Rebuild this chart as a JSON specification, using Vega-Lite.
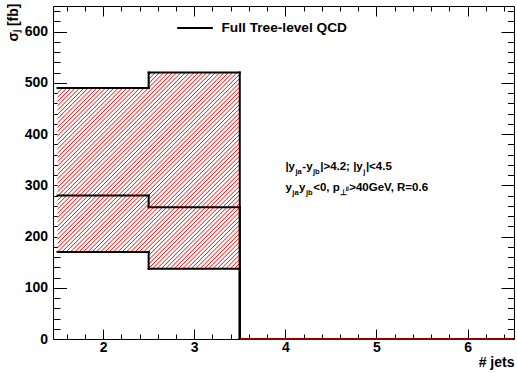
{
"$schema": "https://vega.github.io/schema/vega-lite/v6.json",
"width": 461, "height": 333,
"autosize": {"type": "none"},
"padding": {"left": 53, "top": 6, "right": 3, "bottom": 34},
"background": "white",
"config": {
 "font": "Liberation Sans",
 "view": {"stroke": "black", "strokeWidth": 1},
 "axis": {"grid": false, "domain": false, "labelFont": "Liberation Sans", "labelFontWeight": "bold", "labelFontSize": 14, "labelColor": "black", "tickColor": "black", "tickWidth": 1, "tickOpacity": 1, "titleFont": "Liberation Sans", "titleFontWeight": "bold", "titleFontSize": 14, "titleColor": "black", "labelFlush": false, "labelOverlap": false, "zindex": 1}
},
"data": {"values": [
 {"nj": 2, "x0": 1.5, "x1": 2.5, "val": 280, "low": 170, "high": 490},
 {"nj": 3, "x0": 2.5, "x1": 3.5, "val": 257, "low": 137, "high": 520},
 {"nj": 4, "x0": 3.5, "x1": 4.5, "val": 0, "low": 0, "high": 0},
 {"nj": 5, "x0": 4.5, "x1": 5.5, "val": 0, "low": 0, "high": 0},
 {"nj": 6, "x0": 5.5, "x1": 6.5, "val": 0, "low": 0, "high": 0}
]},
"resolve": {"axis": {"x": "independent", "y": "independent"}},
"layer": [
 {
  "transform": [{"filter": "datum.nj <= 4"}],
  "mark": {"type": "area", "interpolate": "step-after", "fill": {"gradient": "linear", "x1": 0, "y1": 0, "x2": 0.78470, "y2": 1.14726, "stops": [
{"offset":0.03344,"color":"#ffffff"},{"offset":0.03567,"color":"#ff0000"},{"offset":0.03790,"color":"#ffffff"},
{"offset":0.04302,"color":"#ffffff"},{"offset":0.04525,"color":"#ff0000"},{"offset":0.04748,"color":"#ffffff"},
{"offset":0.05261,"color":"#ffffff"},{"offset":0.05484,"color":"#ff0000"},{"offset":0.05707,"color":"#ffffff"},
{"offset":0.06219,"color":"#ffffff"},{"offset":0.06442,"color":"#ff0000"},{"offset":0.06665,"color":"#ffffff"},
{"offset":0.07178,"color":"#ffffff"},{"offset":0.07401,"color":"#ff0000"},{"offset":0.07624,"color":"#ffffff"},
{"offset":0.08136,"color":"#ffffff"},{"offset":0.08359,"color":"#ff0000"},{"offset":0.08582,"color":"#ffffff"},
{"offset":0.09095,"color":"#ffffff"},{"offset":0.09318,"color":"#ff0000"},{"offset":0.09541,"color":"#ffffff"},
{"offset":0.10053,"color":"#ffffff"},{"offset":0.10276,"color":"#ff0000"},{"offset":0.10499,"color":"#ffffff"},
{"offset":0.11012,"color":"#ffffff"},{"offset":0.11235,"color":"#ff0000"},{"offset":0.11458,"color":"#ffffff"},
{"offset":0.11970,"color":"#ffffff"},{"offset":0.12193,"color":"#ff0000"},{"offset":0.12416,"color":"#ffffff"},
{"offset":0.12929,"color":"#ffffff"},{"offset":0.13152,"color":"#ff0000"},{"offset":0.13375,"color":"#ffffff"},
{"offset":0.13887,"color":"#ffffff"},{"offset":0.14110,"color":"#ff0000"},{"offset":0.14333,"color":"#ffffff"},
{"offset":0.14846,"color":"#ffffff"},{"offset":0.15069,"color":"#ff0000"},{"offset":0.15292,"color":"#ffffff"},
{"offset":0.15805,"color":"#ffffff"},{"offset":0.16027,"color":"#ff0000"},{"offset":0.16250,"color":"#ffffff"},
{"offset":0.16763,"color":"#ffffff"},{"offset":0.16986,"color":"#ff0000"},{"offset":0.17209,"color":"#ffffff"},
{"offset":0.17722,"color":"#ffffff"},{"offset":0.17944,"color":"#ff0000"},{"offset":0.18167,"color":"#ffffff"},
{"offset":0.18680,"color":"#ffffff"},{"offset":0.18903,"color":"#ff0000"},{"offset":0.19126,"color":"#ffffff"},
{"offset":0.19639,"color":"#ffffff"},{"offset":0.19861,"color":"#ff0000"},{"offset":0.20084,"color":"#ffffff"},
{"offset":0.20597,"color":"#ffffff"},{"offset":0.20820,"color":"#ff0000"},{"offset":0.21043,"color":"#ffffff"},
{"offset":0.21556,"color":"#ffffff"},{"offset":0.21779,"color":"#ff0000"},{"offset":0.22001,"color":"#ffffff"},
{"offset":0.22514,"color":"#ffffff"},{"offset":0.22737,"color":"#ff0000"},{"offset":0.22960,"color":"#ffffff"},
{"offset":0.23473,"color":"#ffffff"},{"offset":0.23696,"color":"#ff0000"},{"offset":0.23918,"color":"#ffffff"},
{"offset":0.24431,"color":"#ffffff"},{"offset":0.24654,"color":"#ff0000"},{"offset":0.24877,"color":"#ffffff"},
{"offset":0.25390,"color":"#ffffff"},{"offset":0.25613,"color":"#ff0000"},{"offset":0.25835,"color":"#ffffff"},
{"offset":0.26348,"color":"#ffffff"},{"offset":0.26571,"color":"#ff0000"},{"offset":0.26794,"color":"#ffffff"},
{"offset":0.27307,"color":"#ffffff"},{"offset":0.27530,"color":"#ff0000"},{"offset":0.27753,"color":"#ffffff"},
{"offset":0.28265,"color":"#ffffff"},{"offset":0.28488,"color":"#ff0000"},{"offset":0.28711,"color":"#ffffff"},
{"offset":0.29224,"color":"#ffffff"},{"offset":0.29447,"color":"#ff0000"},{"offset":0.29670,"color":"#ffffff"},
{"offset":0.30182,"color":"#ffffff"},{"offset":0.30405,"color":"#ff0000"},{"offset":0.30628,"color":"#ffffff"},
{"offset":0.31141,"color":"#ffffff"},{"offset":0.31364,"color":"#ff0000"},{"offset":0.31587,"color":"#ffffff"},
{"offset":0.32099,"color":"#ffffff"},{"offset":0.32322,"color":"#ff0000"},{"offset":0.32545,"color":"#ffffff"},
{"offset":0.33058,"color":"#ffffff"},{"offset":0.33281,"color":"#ff0000"},{"offset":0.33504,"color":"#ffffff"},
{"offset":0.34016,"color":"#ffffff"},{"offset":0.34239,"color":"#ff0000"},{"offset":0.34462,"color":"#ffffff"},
{"offset":0.34975,"color":"#ffffff"},{"offset":0.35198,"color":"#ff0000"},{"offset":0.35421,"color":"#ffffff"},
{"offset":0.35933,"color":"#ffffff"},{"offset":0.36156,"color":"#ff0000"},{"offset":0.36379,"color":"#ffffff"},
{"offset":0.36892,"color":"#ffffff"},{"offset":0.37115,"color":"#ff0000"},{"offset":0.37338,"color":"#ffffff"},
{"offset":0.37850,"color":"#ffffff"},{"offset":0.38073,"color":"#ff0000"},{"offset":0.38296,"color":"#ffffff"},
{"offset":0.38809,"color":"#ffffff"},{"offset":0.39032,"color":"#ff0000"},{"offset":0.39255,"color":"#ffffff"},
{"offset":0.39767,"color":"#ffffff"},{"offset":0.39990,"color":"#ff0000"},{"offset":0.40213,"color":"#ffffff"},
{"offset":0.40726,"color":"#ffffff"},{"offset":0.40949,"color":"#ff0000"},{"offset":0.41172,"color":"#ffffff"},
{"offset":0.41685,"color":"#ffffff"},{"offset":0.41907,"color":"#ff0000"},{"offset":0.42130,"color":"#ffffff"},
{"offset":0.42643,"color":"#ffffff"},{"offset":0.42866,"color":"#ff0000"},{"offset":0.43089,"color":"#ffffff"},
{"offset":0.43602,"color":"#ffffff"},{"offset":0.43824,"color":"#ff0000"},{"offset":0.44047,"color":"#ffffff"},
{"offset":0.44560,"color":"#ffffff"},{"offset":0.44783,"color":"#ff0000"},{"offset":0.45006,"color":"#ffffff"},
{"offset":0.45519,"color":"#ffffff"},{"offset":0.45742,"color":"#ff0000"},{"offset":0.45964,"color":"#ffffff"},
{"offset":0.46477,"color":"#ffffff"},{"offset":0.46700,"color":"#ff0000"},{"offset":0.46923,"color":"#ffffff"},
{"offset":0.47436,"color":"#ffffff"},{"offset":0.47659,"color":"#ff0000"},{"offset":0.47881,"color":"#ffffff"},
{"offset":0.48394,"color":"#ffffff"},{"offset":0.48617,"color":"#ff0000"},{"offset":0.48840,"color":"#ffffff"},
{"offset":0.49353,"color":"#ffffff"},{"offset":0.49576,"color":"#ff0000"},{"offset":0.49798,"color":"#ffffff"},
{"offset":0.50311,"color":"#ffffff"},{"offset":0.50534,"color":"#ff0000"},{"offset":0.50757,"color":"#ffffff"},
{"offset":0.51270,"color":"#ffffff"},{"offset":0.51493,"color":"#ff0000"},{"offset":0.51716,"color":"#ffffff"},
{"offset":0.52228,"color":"#ffffff"},{"offset":0.52451,"color":"#ff0000"},{"offset":0.52674,"color":"#ffffff"},
{"offset":0.53187,"color":"#ffffff"},{"offset":0.53410,"color":"#ff0000"},{"offset":0.53633,"color":"#ffffff"},
{"offset":0.54145,"color":"#ffffff"},{"offset":0.54368,"color":"#ff0000"},{"offset":0.54591,"color":"#ffffff"},
{"offset":0.55104,"color":"#ffffff"},{"offset":0.55327,"color":"#ff0000"},{"offset":0.55550,"color":"#ffffff"},
{"offset":0.56062,"color":"#ffffff"},{"offset":0.56285,"color":"#ff0000"},{"offset":0.56508,"color":"#ffffff"},
{"offset":0.57021,"color":"#ffffff"},{"offset":0.57244,"color":"#ff0000"},{"offset":0.57467,"color":"#ffffff"},
{"offset":0.57979,"color":"#ffffff"},{"offset":0.58202,"color":"#ff0000"},{"offset":0.58425,"color":"#ffffff"},
{"offset":0.58938,"color":"#ffffff"},{"offset":0.59161,"color":"#ff0000"},{"offset":0.59384,"color":"#ffffff"},
{"offset":0.59896,"color":"#ffffff"},{"offset":0.60119,"color":"#ff0000"},{"offset":0.60342,"color":"#ffffff"},
{"offset":0.60855,"color":"#ffffff"},{"offset":0.61078,"color":"#ff0000"},{"offset":0.61301,"color":"#ffffff"},
{"offset":0.61813,"color":"#ffffff"},{"offset":0.62036,"color":"#ff0000"},{"offset":0.62259,"color":"#ffffff"},
{"offset":0.62772,"color":"#ffffff"},{"offset":0.62995,"color":"#ff0000"},{"offset":0.63218,"color":"#ffffff"},
{"offset":0.63730,"color":"#ffffff"},{"offset":0.63953,"color":"#ff0000"},{"offset":0.64176,"color":"#ffffff"},
{"offset":0.64689,"color":"#ffffff"},{"offset":0.64912,"color":"#ff0000"},{"offset":0.65135,"color":"#ffffff"},
{"offset":0.65648,"color":"#ffffff"},{"offset":0.65870,"color":"#ff0000"},{"offset":0.66093,"color":"#ffffff"},
{"offset":0.66606,"color":"#ffffff"},{"offset":0.66829,"color":"#ff0000"},{"offset":0.67052,"color":"#ffffff"},
{"offset":0.67565,"color":"#ffffff"},{"offset":0.67787,"color":"#ff0000"},{"offset":0.68010,"color":"#ffffff"},
{"offset":0.68523,"color":"#ffffff"},{"offset":0.68746,"color":"#ff0000"},{"offset":0.68969,"color":"#ffffff"},
{"offset":0.69482,"color":"#ffffff"},{"offset":0.69705,"color":"#ff0000"},{"offset":0.69927,"color":"#ffffff"},
{"offset":0.70440,"color":"#ffffff"},{"offset":0.70663,"color":"#ff0000"},{"offset":0.70886,"color":"#ffffff"},
{"offset":0.71399,"color":"#ffffff"},{"offset":0.71622,"color":"#ff0000"},{"offset":0.71844,"color":"#ffffff"},
{"offset":0.72357,"color":"#ffffff"},{"offset":0.72580,"color":"#ff0000"},{"offset":0.72803,"color":"#ffffff"},
{"offset":0.73316,"color":"#ffffff"},{"offset":0.73539,"color":"#ff0000"},{"offset":0.73762,"color":"#ffffff"},
{"offset":0.74274,"color":"#ffffff"},{"offset":0.74497,"color":"#ff0000"},{"offset":0.74720,"color":"#ffffff"},
{"offset":0.75233,"color":"#ffffff"},{"offset":0.75456,"color":"#ff0000"},{"offset":0.75679,"color":"#ffffff"},
{"offset":0.76191,"color":"#ffffff"},{"offset":0.76414,"color":"#ff0000"},{"offset":0.76637,"color":"#ffffff"},
{"offset":0.77150,"color":"#ffffff"},{"offset":0.77373,"color":"#ff0000"},{"offset":0.77596,"color":"#ffffff"},
{"offset":0.78108,"color":"#ffffff"},{"offset":0.78331,"color":"#ff0000"},{"offset":0.78554,"color":"#ffffff"},
{"offset":0.79067,"color":"#ffffff"},{"offset":0.79290,"color":"#ff0000"},{"offset":0.79513,"color":"#ffffff"},
{"offset":0.80025,"color":"#ffffff"},{"offset":0.80248,"color":"#ff0000"},{"offset":0.80471,"color":"#ffffff"},
{"offset":0.80984,"color":"#ffffff"},{"offset":0.81207,"color":"#ff0000"},{"offset":0.81430,"color":"#ffffff"},
{"offset":0.81942,"color":"#ffffff"},{"offset":0.82165,"color":"#ff0000"},{"offset":0.82388,"color":"#ffffff"},
{"offset":0.82901,"color":"#ffffff"},{"offset":0.83124,"color":"#ff0000"},{"offset":0.83347,"color":"#ffffff"},
{"offset":0.83859,"color":"#ffffff"},{"offset":0.84082,"color":"#ff0000"},{"offset":0.84305,"color":"#ffffff"}
  ]}},
  "encoding": {
   "x": {"field": "x0", "type": "quantitative", "scale": {"domain": [1.45, 6.51], "nice": false, "zero": false}, "axis": {"orient": "bottom", "offset": -10, "values": [2, 3, 4, 5, 6], "ticks": true, "tickSize": 10, "labelPadding": 1.5, "title": "# jets", "titleAnchor": "end", "titleAlign": "right", "titleX": 461, "titleY": 37.7, "titleBaseline": "alphabetic"}},
   "y": {"field": "high", "type": "quantitative", "scale": {"domain": [0, 650], "nice": false}, "axis": {"orient": "left", "offset": -13.5, "values": [0, 100, 200, 300, 400, 500, 600], "ticks": true, "tickSize": 13.5, "labelPadding": 5.5, "title": "σⱼ [fb]", "titleAnchor": "end", "titleAlign": "right", "titleAngle": 270, "titleX": -49.5, "titleY": -3, "titleBaseline": "alphabetic"}},
   "y2": {"field": "low"}
  }
 },
 {
  "transform": [{"fold": ["val", "low", "high"], "as": ["series", "v"]}],
  "mark": {"type": "rule", "strokeWidth": 2, "strokeCap": "square"},
  "encoding": {
   "x": {"field": "x0", "type": "quantitative", "scale": {"domain": [1.45, 6.51], "nice": false, "zero": false}, "axis": {"orient": "bottom", "offset": -5, "values": [1.6, 1.8, 2.2, 2.4, 2.6, 2.8, 3.2, 3.4, 3.6, 3.8, 4.2, 4.4, 4.6, 4.8, 5.2, 5.4, 5.6, 5.8, 6.2, 6.4], "labels": false, "ticks": true, "tickSize": 5, "title": null}},
   "x2": {"field": "x1"},
   "y": {"field": "v", "type": "quantitative", "scale": {"domain": [0, 650], "nice": false}, "axis": {"orient": "left", "offset": -7, "values": [20, 40, 60, 80, 120, 140, 160, 180, 220, 240, 260, 280, 320, 340, 360, 380, 420, 440, 460, 480, 520, 540, 560, 580, 620, 640], "labels": false, "ticks": true, "tickSize": 7, "title": null}},
   "color": {"datum": "Full Tree-level QCD", "type": "nominal", "scale": {"range": ["black"]}, "legend": {"orient": "none", "legendX": 123, "legendY": 3, "title": null, "padding": 0, "symbolType": "stroke", "symbolSize": 1274, "symbolStrokeWidth": 2, "symbolStrokeColor": "black", "labelFont": "Liberation Sans", "labelFontWeight": "bold", "labelFontSize": 13.7, "labelColor": "black", "labelOffset": 7.5}}
  }
 },
 {
  "transform": [
   {"fold": ["val", "low", "high"], "as": ["series", "v"]},
   {"window": [{"op": "lag", "field": "v", "as": "prev"}], "groupby": ["series"], "sort": [{"field": "nj", "order": "ascending"}]},
   {"filter": "datum.prev != null"}
  ],
  "mark": {"type": "rule", "strokeWidth": 2, "strokeCap": "square", "color": "black"},
  "encoding": {
   "x": {"field": "x0", "type": "quantitative", "scale": {"domain": [1.45, 6.51], "nice": false, "zero": false}, "axis": {"orient": "top", "offset": -10, "values": [2, 3, 4, 5, 6], "labels": false, "ticks": true, "tickSize": 10, "title": null}},
   "y": {"field": "prev", "type": "quantitative", "scale": {"domain": [0, 650], "nice": false}, "axis": {"orient": "right", "offset": -13, "values": [100, 200, 300, 400, 500, 600], "labels": false, "ticks": true, "tickSize": 13, "title": null}},
   "y2": {"field": "v"}
  }
 },
 {
  "transform": [{"filter": "datum.nj >= 4"}],
  "mark": {"type": "rule", "strokeWidth": 1.5, "color": "#c00000"},
  "encoding": {
   "x": {"field": "x0", "type": "quantitative", "scale": {"domain": [1.45, 6.51], "nice": false, "zero": false}, "axis": {"orient": "top", "offset": -5, "values": [1.6, 1.8, 2.2, 2.4, 2.6, 2.8, 3.2, 3.4, 3.6, 3.8, 4.2, 4.4, 4.6, 4.8, 5.2, 5.4, 5.6, 5.8, 6.2, 6.4], "labels": false, "ticks": true, "tickSize": 5, "title": null}},
   "x2": {"field": "x1"},
   "y": {"field": "high", "type": "quantitative", "scale": {"domain": [0, 650], "nice": false}, "axis": {"orient": "right", "offset": -6.5, "values": [20, 40, 60, 80, 120, 140, 160, 180, 220, 240, 260, 280, 320, 340, 360, 380, 420, 440, 460, 480, 520, 540, 560, 580, 620, 640], "labels": false, "ticks": true, "tickSize": 6.5, "title": null}}
  }
 },
 {
  "data": {"values": [
   {"x": 4.0008, "y": 329.5, "t": "|y"},
   {"x": 4.1864, "y": 329.5, "t": "-y"},
   {"x": 4.3828, "y": 329.5, "t": "|>4.2; |y"},
   {"x": 4.8844, "y": 329.5, "t": "|<4.5"},
   {"x": 4.0008, "y": 289.5, "t": "y"},
   {"x": 4.1512, "y": 289.5, "t": "y"},
   {"x": 4.3060, "y": 289.5, "t": "<0, p"},
   {"x": 4.7012, "y": 289.5, "t": ">40GeV, R=0.6"}
  ]},
  "mark": {"type": "text", "align": "left", "baseline": "alphabetic", "font": "Liberation Sans", "fontWeight": "bold", "fontSize": 11.5, "color": "black"},
  "encoding": {
   "x": {"field": "x", "type": "quantitative", "scale": {"domain": [1.45, 6.51], "nice": false, "zero": false}, "axis": null},
   "y": {"field": "y", "type": "quantitative", "scale": {"domain": [0, 650], "nice": false}, "axis": null},
   "text": {"field": "t"}
  }
 },
 {
  "data": {"values": [
   {"x": 4.1117, "y": 321.7, "t": "ja"},
   {"x": 4.3038, "y": 321.7, "t": "jb"},
   {"x": 4.8559, "y": 321.7, "t": "j"},
   {"x": 4.0766, "y": 281.7, "t": "ja"},
   {"x": 4.2270, "y": 281.7, "t": "jb"},
   {"x": 4.6001, "y": 281.7, "t": "⊥"}
  ]},
  "mark": {"type": "text", "align": "left", "baseline": "alphabetic", "font": "Liberation Sans", "fontWeight": "bold", "fontSize": 7.5, "color": "black"},
  "encoding": {
   "x": {"field": "x", "type": "quantitative", "scale": {"domain": [1.45, 6.51], "nice": false, "zero": false}, "axis": null},
   "y": {"field": "y", "type": "quantitative", "scale": {"domain": [0, 650], "nice": false}, "axis": null},
   "text": {"field": "t"}
  }
 },
 {
  "data": {"values": [
   {"x": 4.6627, "y": 291.4, "t": "jj"}
  ]},
  "mark": {"type": "text", "align": "left", "baseline": "alphabetic", "font": "Liberation Sans", "fontWeight": "bold", "fontSize": 6, "color": "black"},
  "encoding": {
   "x": {"field": "x", "type": "quantitative", "scale": {"domain": [1.45, 6.51], "nice": false, "zero": false}, "axis": null},
   "y": {"field": "y", "type": "quantitative", "scale": {"domain": [0, 650], "nice": false}, "axis": null},
   "text": {"field": "t"}
  }
 }
]
}
